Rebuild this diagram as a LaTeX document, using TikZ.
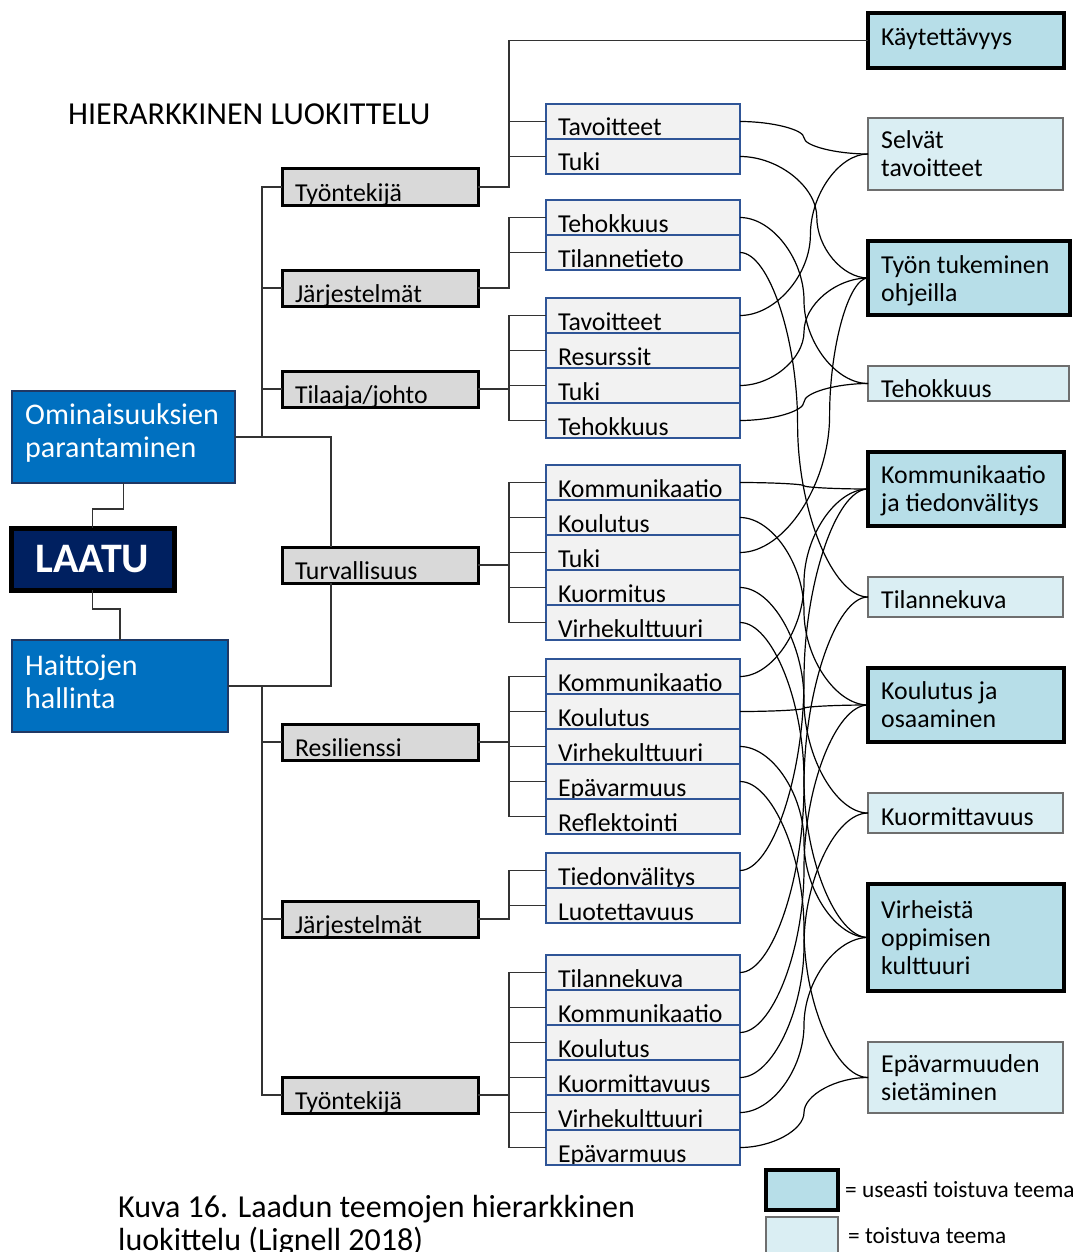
\documentclass[tikz,border=0pt]{standalone}
\usepackage{fontspec}
\setmainfont{Carlito}
\usetikzlibrary{calc}
\definecolor{leaffill}{HTML}{F2F2F2}
\definecolor{leafdraw}{HTML}{2F5597}
\definecolor{grpfill}{HTML}{D9D9D9}
\definecolor{thickfill}{HTML}{B7DEE8}
\definecolor{lightfill}{HTML}{DAEEF3}
\definecolor{lightdraw}{HTML}{6E6E6E}
\definecolor{bluefill}{HTML}{0070C0}
\definecolor{bluedraw}{HTML}{203864}
\definecolor{navyfill}{HTML}{002060}
\definecolor{linecol}{HTML}{333333}
\tikzset{
 box/.style={rectangle, inner sep=0pt, outer sep=0pt, anchor=north west},
 leafbox/.style={box, draw=leafdraw, line width=1.3pt, fill=leaffill, minimum width=194pt, minimum height=35pt},
 grpbox/.style={box, draw=black, line width=3pt, fill=grpfill, minimum width=196pt, minimum height=36pt},
 thickbox/.style={box, draw=black, line width=4pt, fill=thickfill},
 lightbox/.style={box, draw=lightdraw, line width=1.5pt, fill=lightfill},
 bluebox/.style={box, draw=bluedraw, line width=2pt, fill=bluefill},
 txt/.style={inner sep=0pt, anchor=base west, font=\fontsize{25.8pt}{28.5pt}\selectfont, text=black},
 celltxt/.style={txt, draw=none, fill=none, minimum width=0pt, minimum height=0pt, align=left},
 bluetxt/.style={txt, font=\fontsize{30pt}{33pt}\selectfont, text=white},
 bracket/.style={draw=linecol, line width=1.8pt},
 curve/.style={draw=black, line width=1.2pt},
}
\newcommand\leafcell[4]{\node[leafbox, path picture={\node[celltxt] at ([xshift=12pt,yshift=3pt]path picture bounding box.south west) {#4};}] (#1) at (546,#3) {};}
\newcommand\grpcell[3]{\node[grpbox, path picture={\node[celltxt] at ([xshift=13pt,yshift=4pt]path picture bounding box.south west) {#3};}] (#1) at (282,#2) {};}
\newcommand\conn[3]{\draw[curve] let \p1=(#1), \p2=(#2) in
 (\p1) .. controls ({\x1+(\x2-\x1)*#3/2},\y1) and ({\x1+(\x2-\x1)*#3},{0.75*\y1+0.25*\y2}) .. ({\x1+(\x2-\x1)*#3},{0.5*\y1+0.5*\y2})
 .. controls ({\x1+(\x2-\x1)*#3},{0.25*\y1+0.75*\y2}) and ({\x2-(\x2-\x1)*(1-#3)/2},\y2) .. (\p2);}
\begin{document}
\begin{tikzpicture}[x=1pt,y=-1pt]
\useasboundingbox[fill=white] (0,0) rectangle (1081,1252);
\coordinate (bx) at (509,0);
\coordinate (lx) at (262,0);
\coordinate (cx) at (331,0);

% title
\node[txt, font=\fontsize{32pt}{36pt}\selectfont] (title) at (68,125) {HIERARKKINEN LUOKITTELU};

% root boxes
\node[bluebox, minimum width=223pt, minimum height=92pt] (omin) at (12,391) {};
\node[bluetxt] (omin1) at (25,424) {Ominaisuuksien};
\node[bluetxt] (omin2) at (25,457) {parantaminen};
\node[box, draw=black, line width=5pt, fill=navyfill, minimum width=163pt, minimum height=62pt,
      text=white, font=\fontsize{42pt}{46pt}\selectfont\bfseries] (laatu) at (11,528) {LAATU};
\node[bluebox, minimum width=216pt, minimum height=92pt] (haitt) at (12,640) {};
\node[bluetxt] (haitt1) at (25,675) {Haittojen};
\node[bluetxt] (haitt2) at (25,708) {hallinta};

% group boxes
\grpcell{g1}{169}{Työntekijä}
\grpcell{g2}{270}{Järjestelmät}
\grpcell{g3}{371}{Tilaaja/johto}
\grpcell{g4}{547}{Turvallisuus}
\grpcell{g5}{724}{Resilienssi}
\grpcell{g6}{901}{Järjestelmät}
\grpcell{g7}{1077}{Työntekijä}

% leaves
\leafcell{t1a}{}{104}{Tavoitteet}
\leafcell{t1b}{}{139}{Tuki}
\leafcell{j1a}{}{200}{Tehokkuus}
\leafcell{j1b}{}{235}{Tilannetieto}
\leafcell{tj1}{}{298}{Tavoitteet}
\leafcell{tj2}{}{333}{Resurssit}
\leafcell{tj3}{}{368}{Tuki}
\leafcell{tj4}{}{403}{Tehokkuus}
\leafcell{tu1}{}{465}{Kommunikaatio}
\leafcell{tu2}{}{500}{Koulutus}
\leafcell{tu3}{}{535}{Tuki}
\leafcell{tu4}{}{570}{Kuormitus}
\leafcell{tu5}{}{605}{Virhekulttuuri}
\leafcell{r1}{}{659}{Kommunikaatio}
\leafcell{r2}{}{694}{Koulutus}
\leafcell{r3}{}{729}{Virhekulttuuri}
\leafcell{r4}{}{764}{Epävarmuus}
\leafcell{r5}{}{799}{Reflektointi}
\leafcell{j2a}{}{853}{Tiedonvälitys}
\leafcell{j2b}{}{888}{Luotettavuus}
\leafcell{w1}{}{955}{Tilannekuva}
\leafcell{w2}{}{990}{Kommunikaatio}
\leafcell{w3}{}{1025}{Koulutus}
\leafcell{w4}{}{1060}{Kuormittavuus}
\leafcell{w5}{}{1095}{Virhekulttuuri}
\leafcell{w6}{}{1130}{Epävarmuus}

% themes
\node[thickbox, minimum width=196pt, minimum height=55pt] (kay) at (868,13) {};
\node[txt] (kay1) at (881,46) {Käytettävyys};
\node[lightbox, minimum width=195pt, minimum height=72pt] (selv) at (868,118) {};
\node[txt] (selv1) at (881,149) {Selvät};
\node[txt] (selv2) at (881,177) {tavoitteet};
\node[thickbox, minimum width=202pt, minimum height=74pt] (tyon) at (868,241) {};
\node[txt] (tyon1) at (881,273) {Työn tukeminen};
\node[txt] (tyon2) at (881,301) {ohjeilla};
\node[lightbox, minimum width=201pt, minimum height=35pt] (teh) at (868,366) {};
\node[txt] (teh1) at (881,397) {Tehokkuus};
\node[thickbox, minimum width=196pt, minimum height=74pt] (komm) at (868,452) {};
\node[txt] (komm1) at (881,483) {Kommunikaatio};
\node[txt] (komm2) at (881,511) {ja tiedonvälitys};
\node[lightbox, minimum width=195pt, minimum height=40pt] (tilk) at (868,577) {};
\node[txt] (tilk1) at (881,608) {Tilannekuva};
\node[thickbox, minimum width=196pt, minimum height=74pt] (koul) at (868,668) {};
\node[txt] (koul1) at (881,699) {Koulutus ja};
\node[txt] (koul2) at (881,727) {osaaminen};
\node[lightbox, minimum width=195pt, minimum height=40pt] (kuor) at (868,793) {};
\node[txt] (kuor1) at (881,825) {Kuormittavuus};
\node[thickbox, minimum width=196pt, minimum height=107pt] (virh) at (868,884) {};
\node[txt] (virh1) at (881,918) {Virheistä};
\node[txt] (virh2) at (881,946) {oppimisen};
\node[txt] (virh3) at (881,974) {kulttuuri};
\node[lightbox, minimum width=195pt, minimum height=71pt] (epav) at (868,1042) {};
\node[txt] (epav1) at (881,1072) {Epävarmuuden};
\node[txt] (epav2) at (881,1100) {sietäminen};

% root connectors
\draw[bracket] (omin.south) -- ++(0,26) -| (laatu.north);
\draw[bracket] (laatu.south) -- ++(0,19) -| (haitt.north);
\draw[bracket] (g1.west) -- (g1.west -| lx) -- (omin.east -| lx);
\draw[bracket] (g2.west) -- (g2.west -| lx);
\draw[bracket] (g3.west) -- (g3.west -| lx);
\draw[bracket] (omin.east) -- (omin.east -| cx) -- (cx |- g4.north);
\draw[bracket] (haitt.east) -- (haitt.east -| cx) -- (cx |- g4.south);
\draw[bracket] (haitt.east -| lx) -- (g7.west -| lx) -- (g7.west);
\draw[bracket] (g5.west) -- (g5.west -| lx);
\draw[bracket] (g6.west) -- (g6.west -| lx);

% group brackets
\draw[bracket] (kay.west) -- (kay.west -| bx) -- (g1.east -| bx) -- (g1.east);
\draw[bracket] (t1a.west) -- (t1a.west -| bx) (t1b.west) -- (t1b.west -| bx);
\draw[bracket] (j1a.west) -- (j1a.west -| bx) -- (g2.east -| bx) -- (g2.east);
\draw[bracket] (j1b.west) -- (j1b.west -| bx);
\draw[bracket] (tj1.west) -- (tj1.west -| bx) -- (tj4.west -| bx) -- (tj4.west);
\draw[bracket] (tj2.west) -- (tj2.west -| bx) (tj3.west) -- (tj3.west -| bx) (g3.east) -- (g3.east -| bx);
\draw[bracket] (tu1.west) -- (tu1.west -| bx) -- (tu5.west -| bx) -- (tu5.west);
\draw[bracket] (tu2.west) -- (tu2.west -| bx) (tu3.west) -- (tu3.west -| bx) (tu4.west) -- (tu4.west -| bx) (g4.east) -- (g4.east -| bx);
\draw[bracket] (r1.west) -- (r1.west -| bx) -- (r5.west -| bx) -- (r5.west);
\draw[bracket] (r2.west) -- (r2.west -| bx) (r3.west) -- (r3.west -| bx) (r4.west) -- (r4.west -| bx) (g5.east) -- (g5.east -| bx);
\draw[bracket] (j2a.west) -- (j2a.west -| bx) -- (g6.east -| bx) -- (g6.east);
\draw[bracket] (j2b.west) -- (j2b.west -| bx);
\draw[bracket] (w1.west) -- (w1.west -| bx) -- (w6.west -| bx) -- (w6.west);
\draw[bracket] (w2.west) -- (w2.west -| bx) (w3.west) -- (w3.west -| bx) (w4.west) -- (w4.west -| bx) (w5.west) -- (w5.west -| bx) (g7.east) -- (g7.east -| bx);

% curved connectors
\conn{t1a.east}{selv.west}{0.5}
\conn{t1b.east}{tyon.west}{0.6}
\conn{j1a.east}{teh.west}{0.5}
\conn{j1b.east}{tilk.west}{0.45}
\conn{tj1.east}{selv.west}{0.55}
\conn{tj3.east}{tyon.west}{0.5}
\conn{tj4.east}{teh.west}{0.5}
\conn{tu1.east}{komm.west}{0.5}
\conn{tu2.east}{koul.west}{0.5}
\conn{tu3.east}{tyon.west}{0.7}
\conn{tu4.east}{kuor.west}{0.5}
\conn{tu5.east}{virh.west}{0.5}
\conn{r1.east}{komm.west}{0.5}
\conn{r2.east}{koul.west}{0.5}
\conn{r3.east}{virh.west}{0.5}
\conn{r4.east}{epav.west}{0.5}
\conn{j2a.east}{komm.west}{0.5}
\conn{w1.east}{tilk.west}{0.5}
\conn{[yshift=10pt]w3.east}{koul.west}{0.5}
\conn{w4.east}{kuor.west}{0.5}
\conn{w5.east}{virh.west}{0.5}
\conn{w6.east}{epav.west}{0.5}

% legend
\node[thickbox, minimum width=72pt, minimum height=40pt] (leg1) at (766,1170) {};
\node[txt, font=\fontsize{23.3pt}{26pt}\selectfont] (leg1t) at (845,1197) {= useasti toistuva teema};
\node[lightbox, minimum width=72pt, minimum height=50pt] (leg2) at (766,1217) {};
\node[txt, font=\fontsize{23.3pt}{26pt}\selectfont] (leg2t) at (848,1243) {= toistuva teema};

% caption
\node[txt, font=\fontsize{32pt}{36pt}\selectfont] (cap1) at (118,1217) {Kuva 16. Laadun teemojen hierarkkinen};
\node[txt, font=\fontsize{32pt}{36pt}\selectfont] (cap2) at (118,1250) {luokittelu (Lignell 2018)};
\end{tikzpicture}
\end{document}
